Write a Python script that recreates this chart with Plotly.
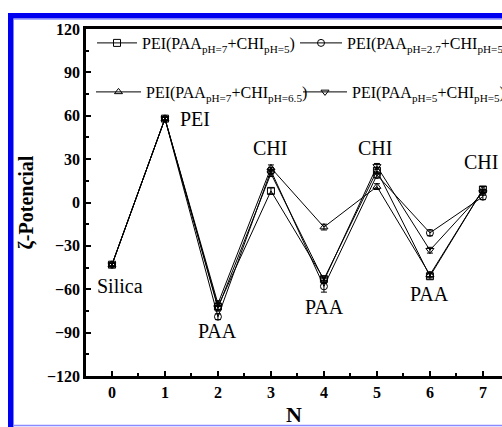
import plotly.graph_objects as go

N = [0, 1, 2, 3, 4, 5, 6, 7]
names = [
    "PEI(PAA<sub>pH=7</sub>+CHI<sub>pH=5</sub>)",
    "PEI(PAA<sub>pH=2.7</sub>+CHI<sub>pH=5</sub>)",
    "PEI(PAA<sub>pH=7</sub>+CHI<sub>pH=6.5</sub>)",
    "PEI(PAA<sub>pH=5</sub>+CHI<sub>pH=5</sub>)",
]
s_sq = [-43, 58, -72, 8, -53, 22, -51, 9]
s_ci = [-43, 58, -79, 22, -58, 19, -21, 4]
s_tu = [-43, 58, -70, 24, -17, 11, -50, 9]
s_td = [-43, 58, -73, 20, -54, 25, -33, 7]
e_sq = [1, 1, 2, 2, 2, 2, 2, 2]
e_ci = [1, 1, 2, 2, 4, 2, 2, 2]
e_tu = [1, 1, 2, 2, 2, 2, 2, 2]
e_td = [1, 1, 2, 2, 2, 2, 2, 2]
series = [s_sq, s_ci, s_tu, s_td]
errors = [e_sq, e_ci, e_tu, e_td]
symbols = ["square-open", "circle-open", "triangle-up-open", "triangle-down-open"]
legends = ["legend", "legend2", "legend3", "legend4"]

labels = ["PEI", "Silica", "PAA", "PAA", "PAA", "CHI", "CHI", "CHI"]
label_x = [1, 0, 2, 4, 6, 3, 5, 7]
label_y = [58, -58, -89, -72, -63, 38, 38, 28]
label_xshift = [30, 8, 0, 1, 0, -1, -2, -2]

W, H = 502, 427
L, R, T, B = 86, 0, 29, 51
pw, ph = W - L - R, H - T - B

def px(x):
    return (x - L) / pw

def py(y):
    return (H - B - y) / ph

fig = go.Figure()
for s, e, sym, nm, lg in zip(series, errors, symbols, names, legends):
    fig.add_trace(go.Scatter(
        x=N, y=s, name=nm, mode="lines+markers", legend=lg, showlegend=True,
        line=dict(color="black", width=1),
        marker=dict(symbol=sym, size=7, color="black", line=dict(width=1, color="black")),
        error_y=dict(type="data", array=e, color="black", thickness=1, width=3),
    ))

serif = "Liberation Serif, Times New Roman, serif"
for t, x, y, xs in zip(labels, label_x, label_y, label_xshift):
    fig.add_annotation(x=x, y=y, text=t, showarrow=False, xshift=xs,
                       font=dict(family=serif, size=20, color="black"))

blue = "#0000f0"
light = "#8a8aff"
shapes = [
    dict(type="rect", xref="paper", yref="paper", x0=px(8), x1=1, y0=py(13), y1=py(18.5),
         fillcolor=blue, line=dict(width=0), layer="above"),
    dict(type="rect", xref="paper", yref="paper", x0=px(8), x1=px(13.5), y0=py(13), y1=py(427),
         fillcolor=blue, line=dict(width=0), layer="above"),
    dict(type="line", xref="paper", yref="paper", x0=px(13), x1=1, y0=py(19.2), y1=py(19.2),
         line=dict(color=light, width=1)),
    dict(type="line", xref="paper", yref="paper", x0=px(13), x1=1, y0=py(425.5), y1=py(425.5),
         line=dict(color=light, width=1.5)),
]

def leg(xp, yp, iw):
    return dict(orientation="v", x=px(xp), y=py(yp), xanchor="left", yanchor="top",
                itemwidth=iw, bgcolor="rgba(0,0,0,0)", borderwidth=0,
                font=dict(family=serif, size=16, color="black"))

fig.update_layout(
    width=W, height=H,
    showlegend=True,
    margin=dict(l=L, r=R, t=T, b=B, autoexpand=False),
    paper_bgcolor="white", plot_bgcolor="white",
    font=dict(family=serif, color="black"),
    shapes=shapes,
    legend=leg(92, 26, 40),
    legend2=leg(295, 26, 42),
    legend3=leg(91, 75, 45),
    legend4=leg(298, 75, 44),
    xaxis=dict(range=[-0.49, 7.36], tickmode="array", tickvals=N, ticktext=[str(v) for v in N],
               ticks="inside", ticklen=5, tickwidth=1.5, tickcolor="black",
               minor=dict(dtick=0.5, ticks="inside", ticklen=3, tickwidth=1.5, tickcolor="black"),
               showline=True, linewidth=2.5, linecolor="black", mirror=True,
               showgrid=False, zeroline=False,
               tickfont=dict(family=serif, size=16, color="black", weight="bold"),
               title=dict(text="<b>N</b>", font=dict(family=serif, size=22, color="black"), standoff=8)),
    yaxis=dict(range=[-120, 120], tickmode="array", tickvals=[-120, -90, -60, -30, 0, 30, 60, 90, 120],
               ticks="inside", ticklen=5, tickwidth=1.5, tickcolor="black",
               minor=dict(dtick=15, ticks="inside", ticklen=3, tickwidth=1.5, tickcolor="black"),
               showline=True, linewidth=2.5, linecolor="black", mirror=False,
               showgrid=False, zeroline=False,
               tickfont=dict(family=serif, size=16, color="black", weight="bold"),
               title=dict(text="<b>ζ-Potencial</b>", font=dict(family=serif, size=20, color="black"), standoff=8)),
)

fig.write_html("out.html")
